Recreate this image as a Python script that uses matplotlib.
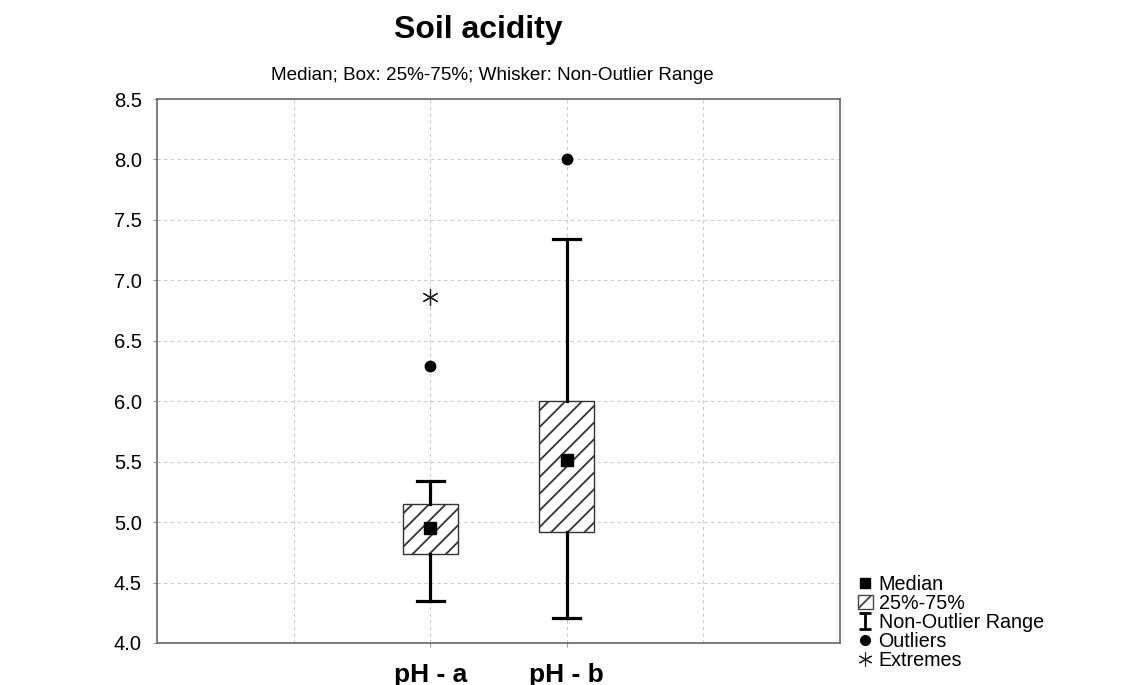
import matplotlib
matplotlib.use("Agg")
import matplotlib.pyplot as plt
from matplotlib.lines import Line2D
from matplotlib.patches import Patch
from matplotlib.path import Path

# --- data ---
groups = ["pH - a", "pH - b"]
positions = [2, 3]
medians = [4.95, 5.51]
q1 = [4.74, 4.92]
q3 = [5.15, 6.00]
whisk_lo = [4.35, 4.21]
whisk_hi = [5.34, 7.34]
outliers = [[6.29], [8.00]]
extremes = [[6.86], []]

plt.rcParams["font.family"] = ["Liberation Sans", "DejaVu Sans"]
plt.rcParams["hatch.color"] = "black"
plt.rcParams["hatch.linewidth"] = 1.3

fig = plt.figure(figsize=(11.4, 6.85), dpi=100)
ax = fig.add_axes([157 / 1140, 1 - 643 / 685, 683 / 1140, 544 / 685])

stats = []
for i, g in enumerate(groups):
    stats.append(dict(label=g, med=medians[i], q1=q1[i], q3=q3[i],
                      whislo=whisk_lo[i], whishi=whisk_hi[i], fliers=[]))

ax.bxp(stats, positions=positions, widths=0.4, capwidths=0.2,
       patch_artist=True, showfliers=False,
       boxprops=dict(facecolor="white", edgecolor="#333333", linewidth=1.0, hatch="//"),
       medianprops=dict(visible=False),
       whiskerprops=dict(color="black", linewidth=2.3),
       capprops=dict(color="black", linewidth=2.3))

# median squares
ax.plot(positions, medians, ls="none", marker="s", ms=8, color="black", zorder=5)

# outliers and extremes
for p, pts in zip(positions, outliers):
    ax.plot([p] * len(pts), pts, ls="none", marker="o", ms=7.5, color="black", zorder=5)
for p, pts in zip(positions, extremes):
    ax.plot([p] * len(pts), pts, ls="none", marker=(6, 2, 0), ms=12, mew=0.9,
            color="#222222", zorder=5)

ax.set_xlim(0, 5)
ax.set_ylim(4.0, 8.5)
ax.set_yticks([4.0 + 0.5 * k for k in range(10)])
ax.set_yticklabels([f"{4.0 + 0.5 * k:.1f}" for k in range(10)], fontsize=14.5)
ax.set_xticks(positions)
ax.set_xticklabels(["", ""])
ax.set_xticks([1, 4], minor=True)
ax.tick_params(length=3, color="#999999")
ax.tick_params(axis="y", pad=8)
ax.tick_params(which="minor", length=0)
ax.grid(True, which="both", ls=(0, (3, 3)), color="#cccccc", lw=0.8)
ax.set_axisbelow(True)
for s in ax.spines.values():
    s.set_color("#666666")
    s.set_linewidth(1.2)

# category labels
for p, g in zip(positions, groups):
    ax.text(p, -39 / 544, g, transform=ax.get_xaxis_transform(), ha="center",
            va="baseline", fontsize=19, fontweight="bold")

fig.text(478 / 1140, 1 - 30 / 685, "Soil acidity", ha="center", va="center",
         fontsize=23, fontweight="bold")
fig.text(492 / 1140, 1 - 76 / 685, "Median; Box: 25%-75%; Whisker: Non-Outlier Range",
         ha="center", va="center", fontsize=13.6)

# legend
ibeam = Path([(-0.8, 1), (0.8, 1), (0, 1), (0, -1), (-0.8, -1), (0.8, -1)],
             [Path.MOVETO, Path.LINETO, Path.MOVETO, Path.LINETO, Path.MOVETO, Path.LINETO])
handles = [
    Line2D([], [], ls="none", marker="s", ms=7, color="black"),
    Patch(facecolor="white", edgecolor="#444444", hatch="/"),
    Line2D([], [], ls="none", marker=ibeam, ms=11.5, mew=2, color="black", fillstyle="none"),
    Line2D([], [], ls="none", marker="o", ms=7, color="black"),
    Line2D([], [], ls="none", marker=(6, 2, 0), ms=10, mew=0.8, color="#222222"),
]
labels = ["Median", "25%-75%", "Non-Outlier Range", "Outliers", "Extremes"]
fig.legend(handles, labels, loc="upper left", bbox_to_anchor=(848 / 1140, 1 - 565 / 685),
           frameon=False, fontsize=14.2, handlelength=0.75, handleheight=0.75,
           handletextpad=0.3, labelspacing=0.0, borderpad=0)

fig.savefig("out.png", dpi=100)
